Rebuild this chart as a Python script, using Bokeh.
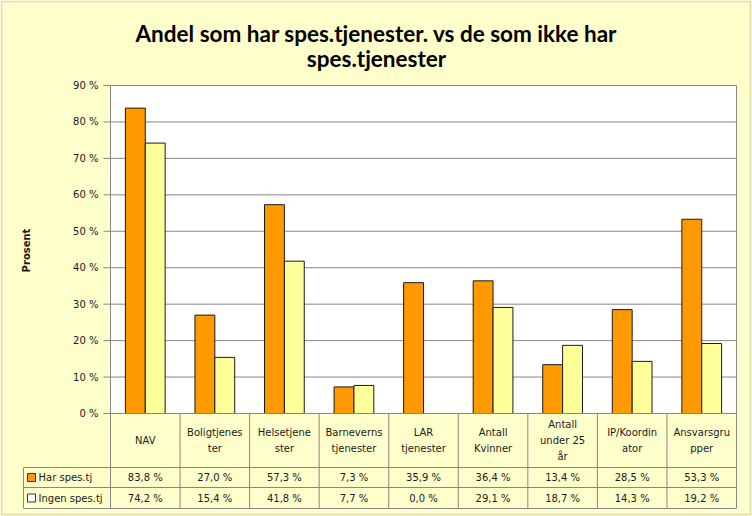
import math
from bokeh.plotting import figure
from bokeh.models import Range1d, BoxAnnotation, ColumnDataSource
from bokeh.core.properties import value
from bokeh.embed import file_html
from bokeh.resources import INLINE

# ---------------- data ----------------
categories = ["NAV", "Boligtjenester", "Helsetjenester", "Barnevernstjenester", "LAR tjenester",
              "Antall Kvinner", "Antall under 25 år", "IP/Koordinator", "Ansvarsgrupper"]
header_labels = ["NAV", "Boligtjenes\nter", "Helsetjene\nster", "Barneverns\ntjenester",
                 "LAR\ntjenester", "Antall\nKvinner", "Antall\nunder 25\når",
                 "IP/Koordin\nator", "Ansvarsgru\npper"]
series_names = ["Har spes.tj", "Ingen spes.tj"]
har = [83.8, 27.0, 57.3, 7.3, 35.9, 36.4, 13.4, 28.5, 53.3]
ingen = [74.2, 15.4, 41.8, 7.7, 0.0, 29.1, 18.7, 14.3, 19.2]
y_ticks = [0, 10, 20, 30, 40, 50, 60, 70, 80, 90]
title_lines = ["Andel som har spes.tjenester. vs de som ikke har", "spes.tjenester"]
y_label = "Prosent"

# ---------------- style / layout ----------------
ORANGE = "#FF9900"
PALE = "#FFFF99"
BG = "#FFFFCC"
GRID = "#868686"
INK = "#1a1a1a"
FONT = "DejaVu Sans"
W, H = 752, 516

PX_X = 626 / 9.0      # pixels per category
PX_Y = 328 / 90.0     # pixels per percent unit


def X(page_x):
    return (page_x - 110) / PX_X


def Y(page_y):
    return (413 - page_y) / PX_Y


n = len(categories)
BW = 1 / 3.5
HDR_BOT = Y(467)
ROW1_BOT = Y(487)
TAB_BOT = Y(508)
LEG_L = X(23)
row_mids = [(HDR_BOT + ROW1_BOT) / 2, (ROW1_BOT + TAB_BOT) / 2]


def pct(v):
    return f"{v:.1f}".replace(".", ",") + " %"


centers = [i + 0.5 for i in range(n)]
src = ColumnDataSource(dict(x=centers, x_har=[c - BW / 2 for c in centers],
                            x_ing=[c + BW / 2 for c in centers],
                            har=har, ingen=ingen, hdr=header_labels,
                            har_t=[pct(v) for v in har], ingen_t=[pct(v) for v in ingen]))

p = figure(width=W, height=H, x_range=Range1d(X(0), X(W)), y_range=Range1d(Y(H), Y(0)),
           x_axis_location=None, y_axis_location=None,
           output_backend="svg", toolbar_location=None, title=None,
           min_border=0, background_fill_color=BG, border_fill_color=BG,
           outline_line_color=None)
p.xgrid.visible = False
p.ygrid.visible = False

# outer chart border
p.add_layout(BoxAnnotation(left=X(1), right=X(750), top=Y(1), bottom=Y(514),
                           fill_alpha=0, line_color="#8a8a78", line_width=1.5))
# white plot area
p.add_layout(BoxAnnotation(left=0, right=n, bottom=0, top=y_ticks[-1], fill_color="white",
                           fill_alpha=1, line_alpha=0, level="underlay"))

# gridlines, ticks and tick labels of the value axis
p.segment(x0=0, x1=n, y0=y_ticks, y1=y_ticks, line_color=GRID, line_width=1)
p.segment(x0=X(103), x1=0, y0=y_ticks, y1=y_ticks, line_color=GRID, line_width=1)
p.text(x=X(98), y=y_ticks, text=[f"{t} %" for t in y_ticks], text_align="right",
       text_baseline="middle", text_font=value(FONT), text_font_size="10px", text_color=INK)
p.text(x=X(26), y=Y(250), text=[y_label], angle=math.pi / 2, text_align="center",
       text_baseline="middle", text_font=value(FONT), text_font_style="bold",
       text_font_size="10px", text_color=INK)

# bars
p.vbar(x="x_har", top="har", width=BW, source=src, fill_color=ORANGE, line_color=INK, line_width=1)
p.vbar(x="x_ing", top="ingen", width=BW, source=src, fill_color=PALE, line_color=INK, line_width=1)

# data table lines
bounds = list(range(n + 1))
p.segment(x0=bounds, x1=bounds, y0=[y_ticks[-1] if b in (0, n) else 0 for b in bounds],
          y1=TAB_BOT, line_color=GRID, line_width=1)
p.segment(x0=[0, LEG_L, LEG_L, LEG_L], x1=[n, n, n, LEG_L],
          y0=[0, HDR_BOT, ROW1_BOT, HDR_BOT], y1=[0, HDR_BOT, ROW1_BOT, TAB_BOT],
          line_color=GRID, line_width=1)
p.segment(x0=[LEG_L], x1=[n], y0=[TAB_BOT], y1=[TAB_BOT], line_color=GRID, line_width=1)

# data table texts
p.text(x="x", y=(0 + HDR_BOT) / 2, text="hdr", source=src, text_align="center",
       text_baseline="middle", text_font=value(FONT), text_font_size="10px",
       text_line_height=1.45, text_color=INK)
p.text(x="x", y=row_mids[0], text="har_t", source=src, text_align="center",
       text_baseline="middle", text_font=value(FONT), text_font_size="10px", text_color=INK)
p.text(x="x", y=row_mids[1], text="ingen_t", source=src, text_align="center",
       text_baseline="middle", text_font=value(FONT), text_font_size="10px", text_color=INK)

# legend keys of the data table
p.scatter(x=X(31), y=row_mids, marker="square", size=8, fill_color=[ORANGE, "white"],
          line_color="#333333", line_width=1)
p.text(x=X(38), y=row_mids, text=series_names, text_align="left", text_baseline="middle",
       text_font=value(FONT), text_font_size="10px", text_color=INK)

# title
p.text(x=X(376), y=[Y(33), Y(58)], text=title_lines, text_align="center",
       text_baseline="alphabetic", text_font=value("Lato"), text_font_style="bold",
       text_font_size="22.5px", text_color="#000000")

open("out.html", "w").write(file_html(p, INLINE))
